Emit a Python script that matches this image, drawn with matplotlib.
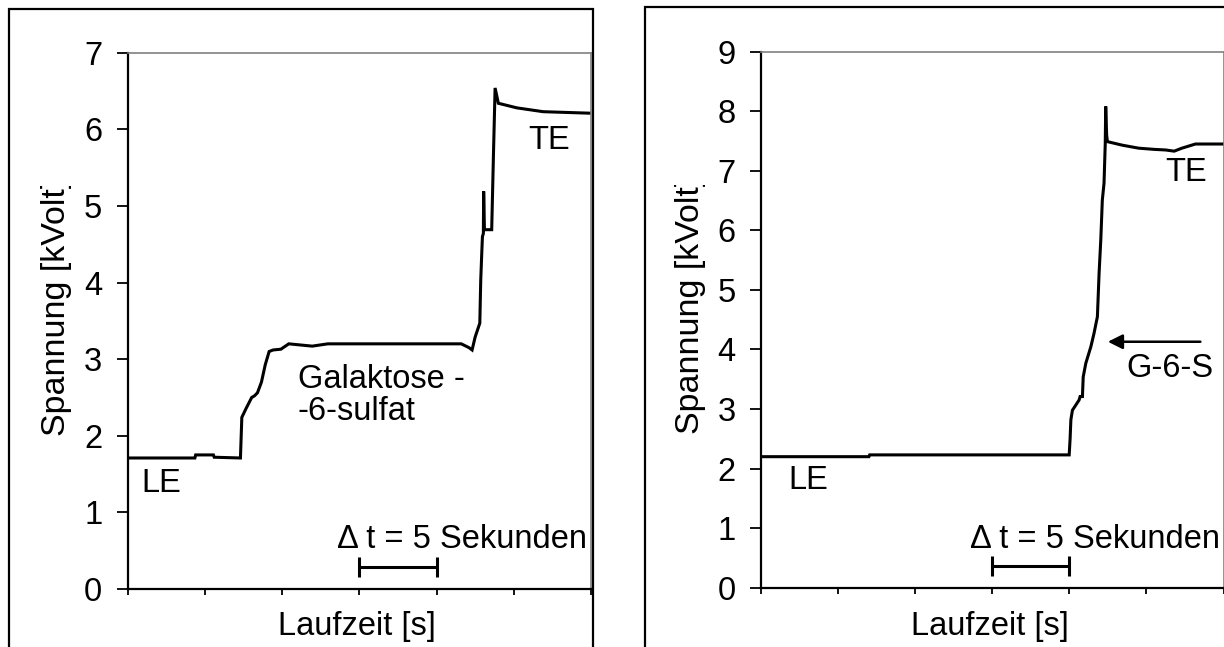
import matplotlib
matplotlib.use("Agg")
import matplotlib.pyplot as plt
from matplotlib.patches import Rectangle
from matplotlib.transforms import Bbox, TransformedBbox

FS = 23.5
FS_YLABEL = 24.5
plt.rcParams["font.family"] = ["Liberation Sans", "DejaVu Sans"]
plt.rcParams["font.size"] = FS

# --- Elektropherogramm 1: Galaktose-6-sulfat (Zeit in s, Spannung in kV) ---
t_gal = [0.0, 4.35, 4.4, 5.55, 5.6, 7.3, 7.39, 7.65, 8.03, 8.2, 8.4, 8.66, 8.91,
         9.16, 9.42, 9.92, 10.43, 11.95, 12.96, 17.0, 21.6, 22.1, 22.3, 22.5,
         22.8, 22.86, 22.92, 22.97, 23.03, 23.05, 23.1, 23.57, 23.68, 23.79,
         24.0, 25.2, 26.9, 30.0]
u_gal = [1.71, 1.71, 1.75, 1.75, 1.72, 1.71, 2.24, 2.35, 2.5, 2.52, 2.56, 2.7,
         2.93, 3.1, 3.12, 3.13, 3.2, 3.17, 3.2, 3.2, 3.2, 3.15, 3.12, 3.29,
         3.47, 4.03, 4.35, 4.6, 4.64, 5.19, 4.69, 4.69, 5.64, 6.54,
         6.34, 6.28, 6.23, 6.21]

# --- Elektropherogramm 2: G-6-S ---
t_g6s = [0.0, 7.0, 7.05, 19.99, 20.05, 20.1, 20.2, 20.63, 20.7, 20.85, 20.9,
         21.07, 21.4, 21.6, 21.82, 21.93, 22.04, 22.14, 22.25, 22.33, 22.36,
         22.42, 22.47, 23.44, 24.5, 25.5, 26.24, 26.8, 27.3, 28.18, 30.0]
u_g6s = [2.2, 2.2, 2.23, 2.23, 2.5, 2.82, 2.98, 3.15, 3.21, 3.21, 3.54,
         3.77, 4.05, 4.27, 4.55, 5.28, 5.84, 6.51, 6.79, 7.46, 8.08,
         7.6, 7.49, 7.43, 7.38, 7.36, 7.35, 7.33, 7.38, 7.45, 7.45]

# Zeitskala: Maßstabsbalken über 5 Sekunden
scale_bar = (15, 20)
x_ticks = [0, 5, 10, 15, 20, 25, 30]

x_label = "Laufzeit [s]"
y_label = "Spannung [kVolt]"
dt_label = "\u0394 t = 5 Sekunden"

W, H = 1224, 647
fig = plt.figure(figsize=(W / 100, H / 100), dpi=100)

def fx(px):
    return px / W

def fy(py):
    return 1 - py / H

# Umrahmungen der beiden Teilbilder
fig.add_artist(Rectangle((fx(9), fy(700)), fx(592.5) - fx(9), fy(8.5) - fy(700),
                         transform=fig.transFigure, fill=False, ec="black", lw=1.6))
fig.add_artist(Rectangle((fx(645), fy(700)), fx(1300) - fx(645), fy(7) - fy(700),
                         transform=fig.transFigure, fill=False, ec="black", lw=1.6))

ax1 = fig.add_axes([fx(127.7), fy(589), fx(591) - fx(127.7), fy(52.7) - fy(589)])
ax2 = fig.add_axes([fx(761), fy(587.7), fx(1223.5) - fx(761), fy(51.7) - fy(587.7)])


def style(ax, ymax):
    ax.set_xlim(0, 30)
    ax.set_ylim(0, ymax)
    ax.set_xticks(x_ticks)
    ax.set_xticklabels([])
    ax.set_yticks(range(0, ymax + 1))
    for side in ("top", "right"):
        ax.spines[side].set_color("#808080")
        ax.spines[side].set_linewidth(1.2)
    for side in ("left", "bottom"):
        ax.spines[side].set_color("black")
        ax.spines[side].set_linewidth(1.6)
    ax.tick_params(axis="y", direction="out", length=7.8, width=1.3, pad=10.5,
                   labelsize=FS)
    ax.tick_params(axis="x", direction="out", length=4.5, width=1.3)


def clip_label(ax, label_x_px, bottom_px, clip_top_px):
    ax.set_ylabel(y_label, fontsize=FS_YLABEL, ha="left")
    ax.yaxis.set_label_coords(fx(label_x_px), fy(bottom_px), transform=fig.transFigure)
    lab = ax.yaxis.label
    lab.set_clip_box(TransformedBbox(Bbox([[0, 0], [1, fy(clip_top_px)]]), fig.transFigure))
    lab.set_clip_on(True)


def scale(ax, y_bar, y_text):
    ax.errorbar([(scale_bar[0] + scale_bar[1]) / 2], [y_bar],
                xerr=[(scale_bar[1] - scale_bar[0]) / 2], fmt="none",
                ecolor="black", elinewidth=2.2, capsize=7, capthick=2.2)
    ax.text(21.65, y_text, dt_label, ha="center", va="center", fontsize=FS)


# Linkes Diagramm
style(ax1, 7)
ax1.plot(t_gal, u_gal, color="black", lw=2.2, solid_joinstyle="miter")
clip_label(ax1, 72, 436, 186)
ax1.set_xlabel(x_label, fontsize=FS)
ax1.xaxis.set_label_coords(fx(357), fy(626), transform=fig.transFigure)
ax1.xaxis.label.set_va("center")
ax1.text(27.3, 5.86, "TE", ha="center", va="center")
ax1.text(2.2, 1.38, "LE", ha="center", va="center")
ax1.text(11.0, 2.53, "Galaktose -\n-6-sulfat", ha="left", va="center",
         linespacing=1.05)
scale(ax1, 0.29, 0.64)

# Rechtes Diagramm
style(ax2, 9)
ax2.plot(t_g6s, u_g6s, color="black", lw=2.2, solid_joinstyle="miter")
clip_label(ax2, 706, 434, 185)
ax2.set_xlabel(x_label, fontsize=FS)
ax2.xaxis.set_label_coords(fx(990), fy(626), transform=fig.transFigure)
ax2.xaxis.label.set_va("center")
ax2.text(27.6, 6.98, "TE", ha="center", va="center")
ax2.text(3.1, 1.80, "LE", ha="center", va="center")
ax2.text(26.5, 3.68, "G-6-S", ha="center", va="center")
ax2.annotate("", xy=(22.5, 4.13), xytext=(28.5, 4.13),
             arrowprops=dict(arrowstyle="-|>", color="black", lw=1.8,
                             mutation_scale=22, shrinkA=0, shrinkB=0))
scale(ax2, 0.36, 0.81)

fig.savefig("out.png", dpi=100)
